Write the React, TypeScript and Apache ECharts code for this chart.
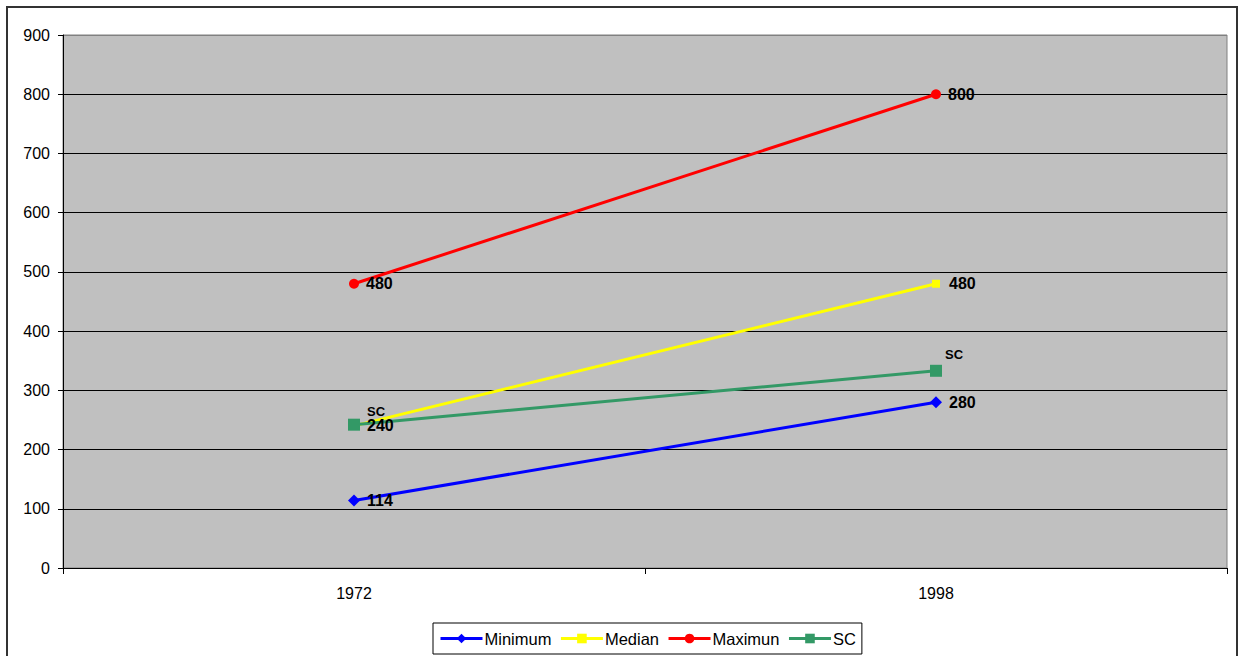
import React, { useEffect, useRef } from "react";
import * as echarts from "echarts";

const categories = ["1972", "1998"];
const minimumValues = [114, 280];
const medianValues = [240, 480];
const maximumValues = [480, 800];
const scValues = [242, 333];
const seriesNames = ["Minimum", "Median", "Maximun", "SC"];

export default function App() {
  const ref = useRef<HTMLDivElement>(null);
  useEffect(() => {
    document.body.style.margin = "0";
    const chart = echarts.init(ref.current!, null, { renderer: "svg" });
    const font = "'Liberation Sans', Arial, sans-serif";
    const valueLabel = (distance: number) => ({
      show: true,
      position: "right" as const,
      distance,
      color: "#000",
      fontSize: 16,
      fontWeight: "bold" as const,
      fontFamily: font,
    });
    const gridColors = ["#000", "#000", "#000", "#000", "#000", "#000", "#000", "#000", "#000", "#808080"];
    chart.setOption({
      animation: false,
      textStyle: { fontFamily: font },
      graphic: [
        {
          type: "rect",
          shape: { x: 7, y: 7, width: 1230, height: 670 },
          style: { fill: "none", stroke: "#333", lineWidth: 2 },
          silent: true,
          z: -10,
        },
      ],
      grid: {
        left: 63,
        right: 14,
        top: 35,
        bottom: 88,
        show: true,
        backgroundColor: "#C0C0C0",
        borderColor: "#808080",
        borderWidth: 1,
      },
      legend: {
        bottom: 2,
        left: 433,
        data: seriesNames,
        itemWidth: 42,
        itemHeight: 12,
        itemGap: 8,
        padding: [7, 6],
        borderColor: "#000",
        borderWidth: 1,
        backgroundColor: "#fff",
        lineStyle: { width: 3 },
        textStyle: { fontSize: 16.5, color: "#000", fontFamily: font, padding: [0, 0, 0, -3] },
      },
      xAxis: {
        type: "category",
        data: categories,
        boundaryGap: true,
        axisLine: { lineStyle: { color: "#000", width: 1 } },
        axisTick: { show: true, length: 6, lineStyle: { color: "#000" } },
        axisLabel: { color: "#000", fontSize: 16, margin: 17, fontFamily: font },
        splitLine: { show: false },
      },
      yAxis: {
        type: "value",
        min: 0,
        max: 900,
        interval: 100,
        axisLine: { show: true, lineStyle: { color: "#000", width: 1 } },
        axisTick: { show: true, length: 5, lineStyle: { color: "#000" } },
        axisLabel: { color: "#000", fontSize: 16, margin: 13, fontFamily: font },
        splitLine: { show: true, lineStyle: { color: gridColors, width: 1 } },
      },
      series: [
        {
          name: "Minimum",
          type: "line",
          data: minimumValues,
          symbol: "diamond",
          symbolSize: 12,
          lineStyle: { color: "#0000FF", width: 3 },
          itemStyle: { color: "#0000FF" },
          label: valueLabel(7),
        },
        {
          name: "Median",
          type: "line",
          data: medianValues,
          symbol: "rect",
          symbolSize: 8,
          lineStyle: { color: "#FFFF00", width: 3 },
          itemStyle: { color: "#FFFF00" },
          label: valueLabel(9),
        },
        {
          name: "Maximun",
          type: "line",
          data: maximumValues,
          symbol: "circle",
          symbolSize: 10,
          lineStyle: { color: "#FF0000", width: 3 },
          itemStyle: { color: "#FF0000" },
          label: valueLabel(7),
        },
        {
          name: "SC",
          type: "line",
          data: scValues.map((v, i) => ({
            value: v,
            label: { offset: i === 0 ? [2, -13] : [-2, -16] },
          })),
          symbol: "rect",
          symbolSize: 12,
          lineStyle: { color: "#339966", width: 3 },
          itemStyle: { color: "#339966" },
          label: {
            show: true,
            position: "right",
            distance: 5,
            formatter: "{a}",
            color: "#000",
            fontSize: 13,
            fontWeight: "bold",
            fontFamily: font,
          },
        },
      ],
    });
    return () => chart.dispose();
  }, []);
  return (
    <div
      ref={ref}
      style={{ position: "absolute", left: 0, top: 0, width: 1241, height: 656 }}
    />
  );
}
